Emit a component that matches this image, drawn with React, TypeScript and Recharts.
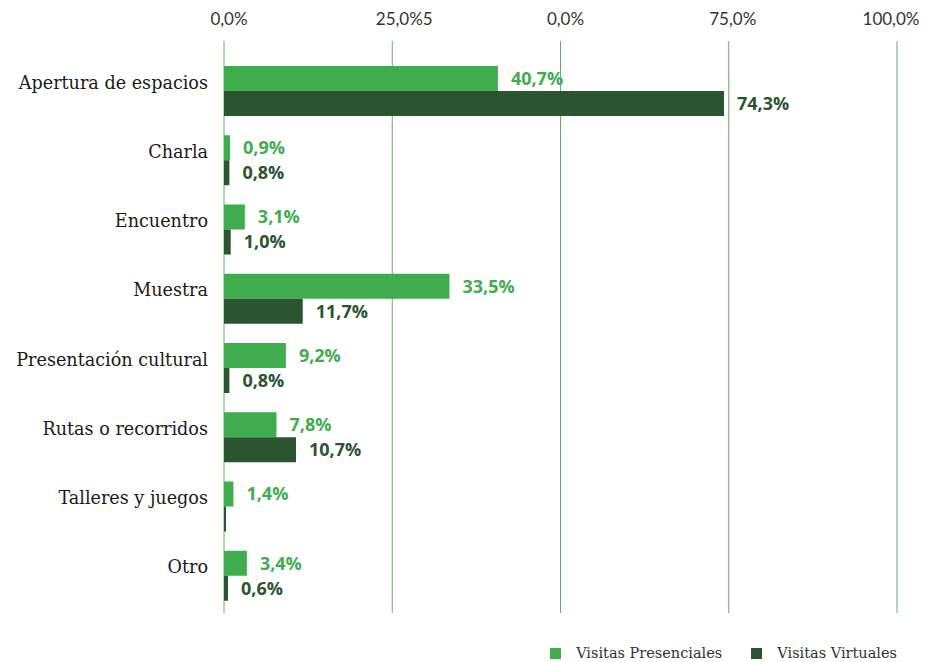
import React from 'react';
import { Bar, BarChart, CartesianGrid, LabelList, Legend, XAxis, YAxis } from 'recharts';

const categories = [
  'Apertura de espacios',
  'Charla',
  'Encuentro',
  'Muestra',
  'Presentación cultural',
  'Rutas o recorridos',
  'Talleres y juegos',
  'Otro',
];
const presenciales = [40.7, 0.9, 3.1, 33.5, 9.2, 7.8, 1.4, 3.4];
const virtuales = [74.3, 0.8, 1.0, 11.7, 0.8, 10.7, 0.3, 0.6];
// the source shows no label on the Talleres virtual bar
const virtualesShowLabel = [true, true, true, true, true, true, false, true];
const xTicks = [0, 25, 50, 75, 100];
const xTickLabels = ['0,0%', '25,0%5', '0,0%', '75,0%', '100,0%'];

const LIGHT = '#3fad4e';
const DARK = '#2b5530';
const GRID = '#62b066';
const SERIF = '"DejaVu Serif", serif';
const SANS = 'Lato, "Open Sans", sans-serif';
const BOLD = '"Open Sans", sans-serif';
const TICK_DX = [5, 12, 5, 4, -6];

const pct = (v: number) => v.toFixed(1).replace('.', ',') + '%';

const data = categories.map((name, i) => ({
  name,
  presenciales: presenciales[i],
  virtuales: virtuales[i],
  presLabel: pct(presenciales[i]),
  virtLabel: virtualesShowLabel[i] ? pct(virtuales[i]) : '',
}));

const TopTick = (props: any) => {
  const { x, y, index } = props;
  return (
    <text x={x + (TICK_DX[index] || 0)} y={y} dy={-8} textAnchor="middle" fontFamily={SANS} fontSize={17} fill="#333">
      {xTickLabels[index]}
    </text>
  );
};

const CatTick = (props: any) => {
  const { x, y, payload } = props;
  return (
    <text x={x} y={y} dy={-2} textAnchor="end" fontFamily={SERIF} fontSize={17.6} fill="#1a1a1a">
      {payload.value}
    </text>
  );
};

const renderLegend = () => (
  <div style={{ display: 'flex', justifyContent: 'flex-end', paddingRight: 41, fontFamily: SERIF, fontSize: 14.5, color: '#333' }}>
    {[
      { label: 'Visitas Presenciales', color: LIGHT },
      { label: 'Visitas Virtuales', color: DARK },
    ].map((it, i) => (
      <div key={it.label} style={{ display: 'flex', alignItems: 'center', marginLeft: i ? 29 : 0 }}>
        <span style={{ width: 11, height: 11, background: it.color, marginRight: 15, display: 'inline-block' }} />
        <span>{it.label}</span>
      </div>
    ))}
  </div>
);

export default function App() {
  return (
    <div style={{ position: 'absolute', left: 0, top: 0, background: '#fff' }}>
      <BarChart
        width={938}
        height={662}
        data={data}
        layout="vertical"
        barGap={0}
        barSize={25}
        margin={{ top: 11, right: 41, left: 0, bottom: 29 }}
      >
        <CartesianGrid horizontal={false} stroke={GRID} />
        <XAxis
          type="number"
          orientation="top"
          domain={[0, 100]}
          ticks={xTicks}
          height={30}
          axisLine={false}
          tickLine={false}
          tick={<TopTick />}
          interval={0}
        />
        <YAxis
          type="category"
          dataKey="name"
          width={224}
          axisLine={false}
          tickLine={false}
          tickMargin={10}
          tick={<CatTick />}
          padding={{ top: 15, bottom: 3 }}
          interval={0}
        />
        <Legend verticalAlign="bottom" content={renderLegend} wrapperStyle={{ left: 0, width: 938, bottom: -3, height: 20 }} />
        <Bar dataKey="presenciales" name="Visitas Presenciales" fill={LIGHT} isAnimationActive={false}>
          <LabelList dataKey="presLabel" position="right" offset={13} fill={LIGHT} fontFamily={BOLD} fontSize={18} fontWeight={700} />
        </Bar>
        <Bar dataKey="virtuales" name="Visitas Virtuales" fill={DARK} isAnimationActive={false}>
          <LabelList dataKey="virtLabel" position="right" offset={13} fill={DARK} fontFamily={BOLD} fontSize={18} fontWeight={700} />
        </Bar>
      </BarChart>
    </div>
  );
}
